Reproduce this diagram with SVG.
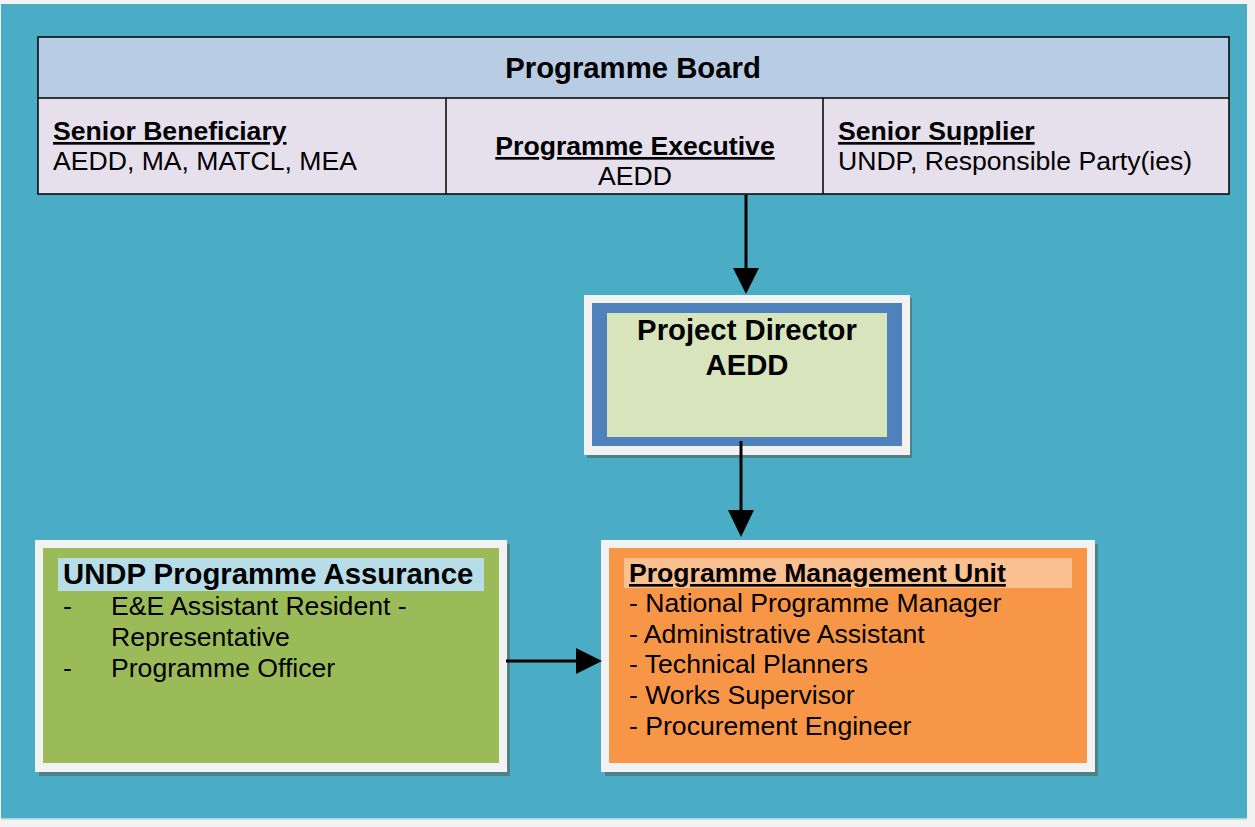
<svg xmlns="http://www.w3.org/2000/svg" width="1255" height="827" viewBox="0 0 1255 827">
<defs>
<style>
text{font-family:"Liberation Sans",Arial,sans-serif;fill:#000}
.b{font-weight:bold}
.h{font-size:29.3px;font-weight:bold}
.t{font-size:26.6px}
.u{text-decoration:underline}
.line{stroke:#000;stroke-width:1.5;fill:none}
.conn{stroke:#000;stroke-width:3;fill:none}
.shadow{fill:#4e7b7a;opacity:0.85}
.frame{fill:#f2f2f2}
</style>
</defs>
<rect width="1255" height="827" fill="#f2f2f2"/>
<rect x="1" y="4" width="1246" height="814" fill="#4bacc6"/>
<rect x="1" y="818" width="1246" height="1.5" fill="#a5d4e2"/>

<g id="programme-board">
<rect x="38" y="37" width="1191" height="61" fill="#b8cce4"/>
<rect x="38" y="98" width="1191" height="96" fill="#e5e0ec"/>
<rect x="38" y="37" width="1191" height="157" class="line"/>
<line x1="38" y1="98" x2="1229" y2="98" class="line"/>
<line x1="446" y1="98" x2="446" y2="194" class="line"/>
<line x1="823" y1="98" x2="823" y2="194" class="line"/>
<text x="633" y="78" class="h" text-anchor="middle">Programme Board</text>
<text x="53" y="140" class="t b u">Senior Beneficiary</text>
<text x="53" y="170" class="t">AEDD, MA, MATCL, MEA</text>
<text x="635" y="155" class="t b u" text-anchor="middle">Programme Executive</text>
<text x="635" y="185" class="t" text-anchor="middle">AEDD</text>
<text x="838" y="140" class="t b u">Senior Supplier</text>
<text x="838" y="170" class="t">UNDP, Responsible Party(ies)</text>
</g>

<g id="project-director">
<rect x="587" y="298" width="325" height="160" class="shadow"/>
<rect x="584" y="295" width="326" height="160" class="frame"/>
<rect x="592" y="303" width="310" height="143" fill="#4f81bd"/>
<rect x="607" y="313" width="280" height="124" fill="#d7e4bc"/>
<text x="747" y="340" class="h" text-anchor="middle">Project Director</text>
<text x="747" y="375" class="h" text-anchor="middle">AEDD</text>
</g>

<g id="undp-assurance">
<rect x="39" y="544" width="471" height="232" class="shadow"/>
<rect x="35" y="540" width="472" height="232" class="frame"/>
<rect x="43" y="548" width="456" height="215" fill="#9bbb59"/>
<rect x="58" y="558" width="426" height="33" fill="#b7dde8"/>
<text x="63" y="584" class="h">UNDP Programme Assurance</text>
<text x="63" y="615" class="t">-</text>
<text x="111" y="615" class="t">E&amp;E Assistant Resident -</text>
<text x="111" y="646" class="t">Representative</text>
<text x="63" y="677" class="t">-</text>
<text x="111" y="677" class="t">Programme Officer</text>
</g>

<g id="pmu">
<rect x="605" y="544" width="493" height="232" class="shadow"/>
<rect x="601" y="540" width="494" height="232" class="frame"/>
<rect x="609" y="548" width="478" height="215" fill="#f79646"/>
<rect x="624" y="558" width="448" height="30" fill="#fac090"/>
<text x="629" y="582" class="t b u">Programme Management Unit</text>
<text x="629" y="612" class="t">- National Programme Manager</text>
<text x="629" y="643" class="t">- Administrative Assistant</text>
<text x="629" y="673" class="t">- Technical Planners</text>
<text x="629" y="704" class="t">- Works Supervisor</text>
<text x="629" y="735" class="t">- Procurement Engineer</text>
</g>

<g id="connectors">
<line x1="746" y1="195" x2="746" y2="270" class="conn"/>
<path d="M733,268 L759,268 L746,294 z" fill="#000"/>
<line x1="741" y1="441" x2="741" y2="512" class="conn"/>
<path d="M728,510 L754,510 L741,537 z" fill="#000"/>
<line x1="506" y1="661" x2="578" y2="661" class="conn"/>
<path d="M576,648 L576,674 L602,661 z" fill="#000"/>
</g>
</svg>
